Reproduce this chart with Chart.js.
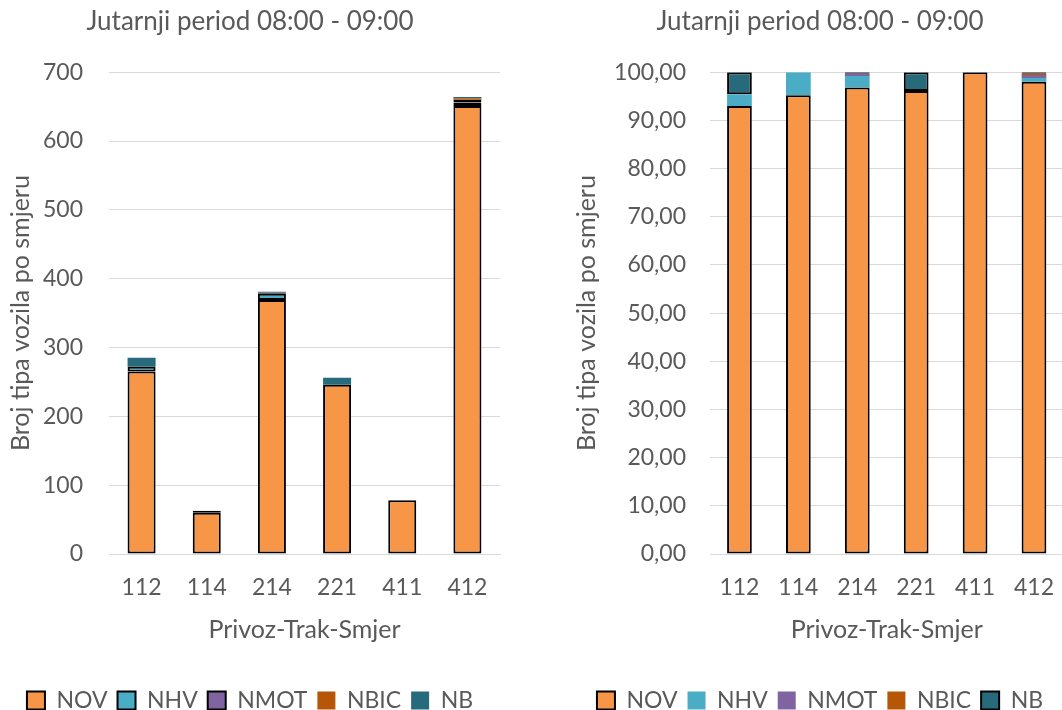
<!DOCTYPE html>
<html>
<head>
<meta charset="utf-8">
<script src="https://cdn.jsdelivr.net/npm/chart.js@4"></script>
<style>
  html, body { margin: 0; padding: 0; background: #fff; overflow: hidden; width: 1062px; height: 710px; }
  canvas { position: absolute; top: 0; }
  #count-chart { left: 0; }
  #share-chart { left: 566px; }
</style>
</head>
<body>
<canvas id="count-chart" width="510" height="722"></canvas>
<canvas id="share-chart" width="508" height="722"></canvas>
<script>
// Categories (Privoz-Trak-Smjer)
const categories = ["112", "114", "214", "221", "411", "412"];

// Vehicle counts per direction
const novCount  = [265, 60, 369, 246, 78, 651];
const nhvCount  = [7, 3, 9, 0, 0, 5];
const nmotCount = [0, 0, 2, 0, 0, 4];
const nbicCount = [0, 0, 0, 0, 0, 2];
const nbCount   = [13, 0, 1, 10, 0, 2];

// Share of vehicle type per direction (%)
const novShare  = [93.0, 95.2, 96.8, 96.1, 100, 98.0];
const nhvShare  = [2.4, 4.8, 2.4, 0, 0, 0.8];
const nmotShare = [0, 0, 0.5, 0, 0, 0.6];
const nbicShare = [0, 0, 0, 0, 0, 0.3];
const nbShare   = [4.6, 0, 0.3, 3.9, 0, 0.3];

const chartTitle = "Jutarnji period 08:00 - 09:00";
const yTitle = "Broj tipa vozila po smjeru";
const xTitle = "Privoz-Trak-Smjer";

const FONT = "Lato, 'Liberation Sans', sans-serif";
const TEXT = "#595959";
const GRID = "#d9d9d9";

Chart.defaults.font.family = FONT;
Chart.defaults.font.size = 23;
Chart.defaults.color = TEXT;
Chart.defaults.animation = false;

function ds(label, data, color, bordered) {
  return {
    label: label,
    data: data,
    backgroundColor: color,
    borderColor: "#000",
    borderWidth: bordered ? 2 : 0,
    borderSkipped: false,
  };
}

function baseOptions(yWidth, yOpts, barPct) {
  return {
    responsive: false,
    layout: { padding: { left: 0, right: 0, top: 0, bottom: 0 } },
    datasets: { bar: { categoryPercentage: 1, barPercentage: barPct } },
    plugins: {
      title: {
        display: true,
        text: chartTitle,
        color: TEXT,
        font: { size: 26, weight: "normal" },
        padding: { top: 6, bottom: 35 },
      },
      legend: {
        position: "bottom",
        labels: {
          boxWidth: 18,
          boxHeight: 18,
          padding: 10,
          color: TEXT,
          font: { size: 23 },
        },
      },
      tooltip: { enabled: false },
    },
    scales: {
      x: {
        stacked: true,
        grid: { display: false, drawTicks: false },
        border: { color: GRID, width: 1 },
        ticks: { padding: 20, color: TEXT },
        title: { display: true, text: xTitle, color: TEXT, font: { size: 25 }, padding: { top: 0, bottom: 34 } },
        afterFit: (scale) => { scale.height = 125; },
      },
      y: Object.assign({
        stacked: true,
        beginAtZero: true,
        grid: { color: GRID, drawTicks: false },
        border: { display: false },
        title: { display: true, text: yTitle, color: TEXT, font: { size: 25 }, padding: { top: 6, bottom: 0 } },
        afterFit: (scale) => { scale.width = yWidth; },
      }, yOpts),
    },
  };
}

// Left chart: counts
const countOpts = baseOptions(109, {
  max: 700,
  ticks: { stepSize: 100, padding: 26, color: TEXT },
}, 0.43);
countOpts.layout.padding.right = 10;

new Chart(document.getElementById("count-chart"), {
  type: "bar",
  data: {
    labels: categories,
    datasets: [
      ds("NOV", novCount, "#F79646", true),
      ds("NHV", nhvCount, "#4BACC6", true),
      ds("NMOT", nmotCount, "#8064A2", true),
      ds("NBIC", nbicCount, "#B65708", false),
      ds("NB", nbCount, "#276A7C", false),
    ],
  },
  options: countOpts,
});

// Right chart: shares
const shareOpts = baseOptions(144, {
  max: 100,
  ticks: {
    stepSize: 10,
    padding: 24,
    color: TEXT,
    callback: (v) => v.toFixed(2).replace(".", ","),
  },
}, 0.42);

new Chart(document.getElementById("share-chart"), {
  type: "bar",
  data: {
    labels: categories,
    datasets: [
      ds("NOV", novShare, "#F79646", true),
      ds("NHV", nhvShare, "#4BACC6", false),
      ds("NMOT", nmotShare, "#8064A2", false),
      ds("NBIC", nbicShare, "#B65708", false),
      ds("NB", nbShare, "#276A7C", true),
    ],
  },
  options: shareOpts,
});
</script>
</body>
</html>
